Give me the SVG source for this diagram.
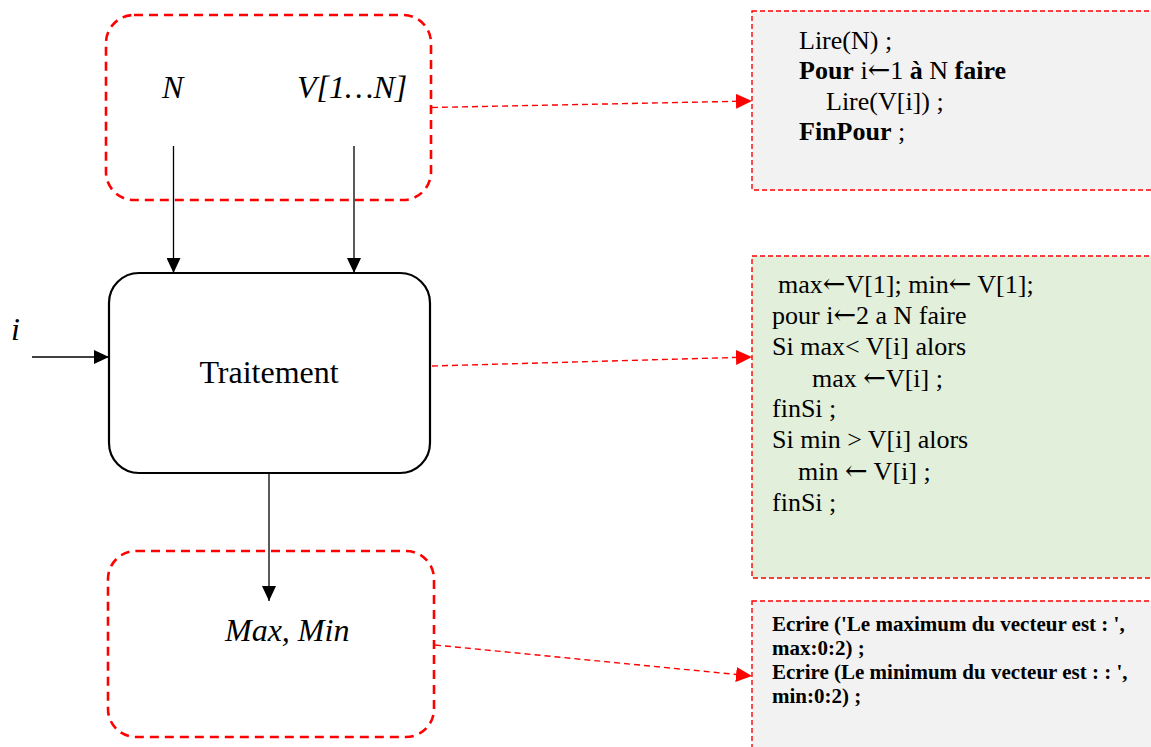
<svg xmlns="http://www.w3.org/2000/svg" width="1151" height="747" viewBox="0 0 1151 747">
  <style>
    .io { fill: none; stroke: #ff0000; stroke-width: 2.6; stroke-dasharray: 9 6; }
    .proc { fill: #ffffff; stroke: #000000; stroke-width: 2.2; }
    .code { stroke: #ff0000; stroke-width: 1.4; stroke-dasharray: 5 3; }
    .flow { stroke: #000000; stroke-width: 1.3; fill: none; }
    .link { stroke: #ff0000; stroke-width: 1.4; stroke-dasharray: 6 4; fill: none; }
    .lbl { font-family: "Liberation Serif", "Times New Roman", serif; font-size: 32px; fill: #000; }
    .it { font-style: italic; }
    .src { font-family: "Liberation Serif", "Times New Roman", serif; font-size: 26px; fill: #000; }
    .out { font-family: "Liberation Serif", "Times New Roman", serif; font-size: 21px; font-weight: bold; fill: #000; }
    .b { font-weight: bold; }
    .arw { font-family: "DejaVu Serif", "DejaVu Sans", serif; font-weight: normal; font-size: 27px; }
  </style>
  <defs>
    <marker id="blk" viewBox="0 0 15 14" refX="15" refY="7" markerWidth="15" markerHeight="14" markerUnits="userSpaceOnUse" orient="auto">
      <path d="M0,0 L15,7 L0,14 Z" fill="#000"/>
    </marker>
    <marker id="red" viewBox="0 0 16 15" refX="16" refY="7.5" markerWidth="16" markerHeight="15" markerUnits="userSpaceOnUse" orient="auto">
      <path d="M0,0 L16,7.5 L0,15 Z" fill="#ff0000"/>
    </marker>
  </defs>

  <rect width="1151" height="747" fill="#ffffff"/>

  <!-- inputs -->
  <g id="inputs">
    <rect class="io" x="106" y="15" width="325" height="185" rx="28" ry="28"/>
    <text class="lbl it" x="162" y="98">N</text>
    <text class="lbl it" x="297" y="98">V[1…N]</text>
  </g>

  <!-- processing block -->
  <g id="traitement">
    <rect class="proc" x="109" y="273" width="321" height="200" rx="30" ry="30"/>
    <text class="lbl" x="269" y="383" text-anchor="middle">Traitement</text>
  </g>

  <!-- loop index -->
  <g id="index">
    <text class="lbl it" x="11" y="340">i</text>
  </g>

  <!-- outputs -->
  <g id="outputs">
    <rect class="io" x="108" y="551" width="326" height="186" rx="28" ry="28"/>
    <text class="lbl it" x="225" y="641">Max, Min</text>
  </g>

  <!-- reading code -->
  <g id="lecture">
    <rect class="code" x="752" y="11" width="410" height="179" fill="#f2f2f2"/>
    <text class="src" x="799" y="49">Lire(N) ;</text>
    <text class="src" x="799" y="79"><tspan class="b">Pour</tspan> i<tspan class="arw">←</tspan>1 <tspan class="b">à</tspan> N <tspan class="b">faire</tspan></text>
    <text class="src" x="826" y="110">Lire(V[i]) ;</text>
    <text class="src" x="799" y="140"><tspan class="b">FinPour</tspan> ;</text>
  </g>

  <!-- processing code -->
  <g id="calcul">
    <rect class="code" x="752" y="256" width="410" height="322" fill="#e2efda"/>
    <text class="src" x="778" y="293">max<tspan class="arw">←</tspan>V[1]; min<tspan class="arw">←</tspan> V[1];</text>
    <text class="src" x="772" y="324">pour i<tspan class="arw">←</tspan>2 a N faire</text>
    <text class="src" x="772" y="355">Si max&lt; V[i] alors</text>
    <text class="src" x="812" y="387">max <tspan class="arw">←</tspan>V[i] ;</text>
    <text class="src" x="772" y="417">finSi ;</text>
    <text class="src" x="772" y="448">Si min &gt; V[i] alors</text>
    <text class="src" x="798" y="480">min <tspan class="arw">←</tspan> V[i] ;</text>
    <text class="src" x="772" y="511">finSi ;</text>
  </g>

  <!-- output code -->
  <g id="ecriture">
    <rect class="code" x="752" y="601" width="410" height="160" fill="#f2f2f2"/>
    <text class="out" x="772" y="631">Ecrire ('Le maximum du vecteur est : ',</text>
    <text class="out" x="772" y="655">max:0:2) ;</text>
    <text class="out" x="772" y="679">Ecrire (Le minimum du vecteur est : : ',</text>
    <text class="out" x="772" y="703">min:0:2) ;</text>
  </g>

  <!-- connectors -->
  <g id="connectors">
    <line class="flow" x1="173.5" y1="146" x2="173.5" y2="273" marker-end="url(#blk)"/>
    <line class="flow" x1="354" y1="146" x2="354" y2="273" marker-end="url(#blk)"/>
    <line class="flow" x1="32" y1="357" x2="109" y2="357" marker-end="url(#blk)"/>
    <line class="flow" x1="269" y1="474" x2="269" y2="601" marker-end="url(#blk)"/>
    <line class="link" x1="432" y1="107.5" x2="752" y2="101" marker-end="url(#red)"/>
    <line class="link" x1="432" y1="366" x2="752" y2="357" marker-end="url(#red)"/>
    <line class="link" x1="435" y1="645" x2="752" y2="676" marker-end="url(#red)"/>
  </g>
</svg>
